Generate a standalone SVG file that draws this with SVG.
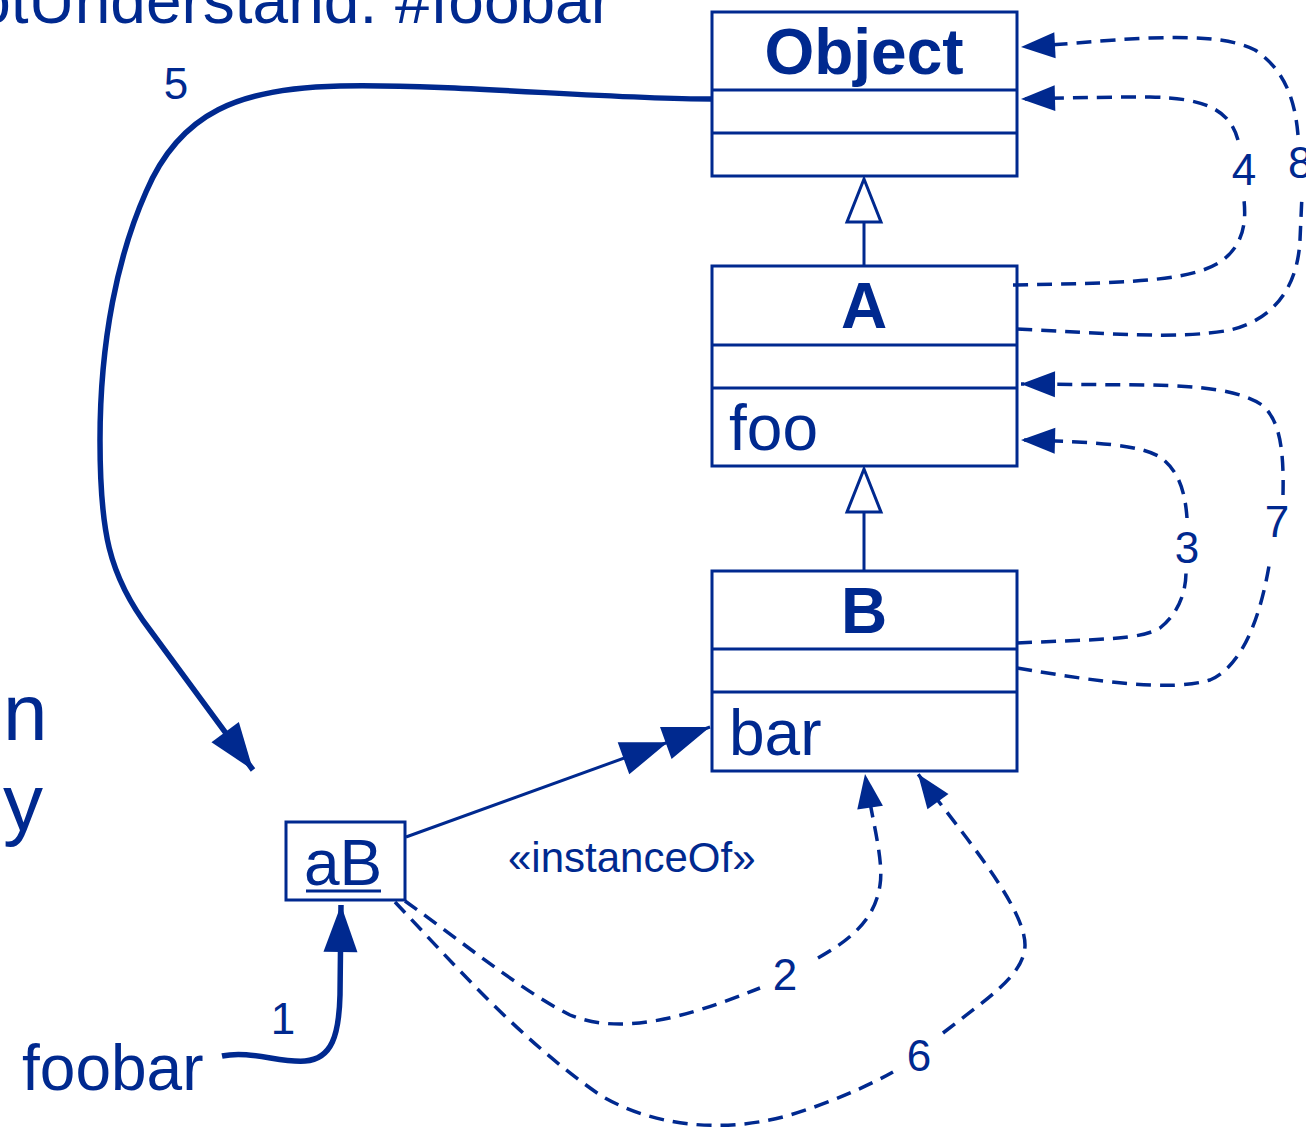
<svg xmlns="http://www.w3.org/2000/svg" width="1306" height="1131" viewBox="0 0 1306 1131">
<style>
.t{font-family:"Liberation Sans",Arial,Helvetica,sans-serif;fill:#00298f}
.b{font-weight:bold}
.box{fill:#fff;stroke:#00298f;stroke-width:3}
.ln{fill:none;stroke:#00298f;stroke-width:3}
.dash{fill:none;stroke:#00298f;stroke-width:3.5;stroke-dasharray:15 9}
.thick{fill:none;stroke:#00298f;stroke-width:5.5}
.num{font-size:44px;text-anchor:middle}
</style>
<defs>
<marker id="arr" markerUnits="userSpaceOnUse" markerWidth="36" markerHeight="28" refX="34" refY="13" orient="auto" overflow="visible">
<path d="M0,0 L34,13 L0,26 Z" fill="#00298f"/>
</marker>
<marker id="arrBig" markerUnits="userSpaceOnUse" markerWidth="48" markerHeight="36" refX="47" refY="17" orient="auto" overflow="visible">
<path d="M0,0 L47,17 L0,34 Z" fill="#00298f"/>
</marker>
<marker id="arrDbl" markerUnits="userSpaceOnUse" markerWidth="94" markerHeight="36" refX="92" refY="17" orient="auto" overflow="visible">
<path d="M0,0 L47,17 L0,34 Z M45,0 L92,17 L45,34 Z" fill="#00298f"/>
</marker>
</defs>
<rect width="1306" height="1131" fill="#fff"/>

<g id="slide-text">
<text class="t" x="612" y="23" font-size="64" text-anchor="end">otUnderstand: #foobar</text>
<text class="t" x="3" y="740" font-size="80">n</text>
<text class="t" x="3" y="830" font-size="80">y</text>
</g>

<g id="Object">
<rect class="box" x="712" y="12" width="305" height="164"/>
<line class="ln" x1="712" y1="90" x2="1017" y2="90"/>
<line class="ln" x1="712" y1="133" x2="1017" y2="133"/>
<text class="t b" x="864" y="74" font-size="64" text-anchor="middle">Object</text>
</g>

<g id="A">
<rect class="box" x="712" y="266" width="305" height="200"/>
<line class="ln" x1="712" y1="345" x2="1017" y2="345"/>
<line class="ln" x1="712" y1="388" x2="1017" y2="388"/>
<text class="t b" x="864" y="328" font-size="64" text-anchor="middle">A</text>
<text class="t" x="729" y="450" font-size="64">foo</text>
</g>

<g id="B">
<rect class="box" x="712" y="571" width="305" height="200"/>
<line class="ln" x1="712" y1="649" x2="1017" y2="649"/>
<line class="ln" x1="712" y1="692" x2="1017" y2="692"/>
<text class="t b" x="864" y="633" font-size="64" text-anchor="middle">B</text>
<text class="t" x="729" y="755" font-size="64">bar</text>
</g>

<g id="aB">
<rect class="box" x="286" y="822" width="119" height="78"/>
<text class="t" x="304" y="885" font-size="64">aB</text>
<line class="ln" x1="306" y1="891" x2="381" y2="891"/>
</g>

<g id="foobar">
<text class="t" x="22" y="1090" font-size="64">foobar</text>
</g>

<g id="connectors">
<line class="ln" x1="864" y1="222" x2="864" y2="266"/>
<polygon class="box" points="864,179 847,222 881,222"/>
<line class="ln" x1="864" y1="512" x2="864" y2="571"/>
<polygon class="box" points="864,469 847,512 881,512"/>

<path class="ln" d="M406,837 L710,727" marker-end="url(#arrDbl)"/>
<text class="t" x="508" y="872" font-size="42">«instanceOf»</text>

<path class="thick" d="M222,1056 C250,1050 280,1063 305,1061 C332,1059 339,1035 340,995 L341,905" marker-end="url(#arrBig)"/>
<text class="t num" x="283" y="1034">1</text>

<path class="thick" d="M712,99 C600,99 460,84 340,86 C240,88 180,112 146,192 C118,255 100,340 100,440 C100,530 108,575 150,630 L253,770" marker-end="url(#arrBig)"/>
<text class="t num" x="176" y="99">5</text>

<path class="dash" d="M405,901 C460,940 520,990 570,1015 C620,1035 680,1020 760,988"/>
<path class="dash" d="M818,958 C850,940 875,920 880,885 C884,860 872,820 865,774" marker-end="url(#arr)"/>
<text class="t num" x="785" y="990">2</text>

<path class="dash" d="M395,902 C450,960 520,1040 600,1095 C650,1125 720,1135 790,1115 C830,1103 870,1085 893,1072"/>
<path class="dash" d="M943,1033 C985,1000 1025,975 1025,945 C1025,905 955,825 918,774" marker-end="url(#arr)"/>
<text class="t num" x="919" y="1071">6</text>

<path class="dash" d="M1017,643 C1100,639 1140,640 1160,628 C1180,612 1186,590 1186,572"/>
<path class="dash" d="M1187,518 C1185,490 1178,470 1160,457 C1140,445 1100,442 1021,440" marker-end="url(#arr)"/>
<text class="t num" x="1187" y="563">3</text>

<path class="dash" d="M1017,668 C1100,682 1170,692 1210,680 C1245,665 1262,610 1270,560"/>
<path class="dash" d="M1283,495 C1284,450 1280,420 1262,405 C1240,390 1200,386 1150,385 L1021,384" marker-end="url(#arr)"/>
<text class="t num" x="1277" y="537">7</text>

<path class="dash" d="M1013,285 C1120,283 1190,282 1220,262 C1245,245 1246,220 1244,200"/>
<path class="dash" d="M1238,140 C1230,110 1205,98 1150,97 C1100,97 1060,98 1021,99" marker-end="url(#arr)"/>
<text class="t num" x="1244" y="185">4</text>

<path class="dash" d="M1017,329 C1100,333 1180,340 1230,330 C1280,318 1298,280 1300,240 L1302,195"/>
<path class="dash" d="M1298,135 C1295,100 1285,70 1255,50 C1230,37 1190,37 1150,38 C1100,40 1060,45 1021,47" marker-end="url(#arr)"/>
<text class="t" x="1288" y="178" font-size="44">8</text>
</g>
</svg>
